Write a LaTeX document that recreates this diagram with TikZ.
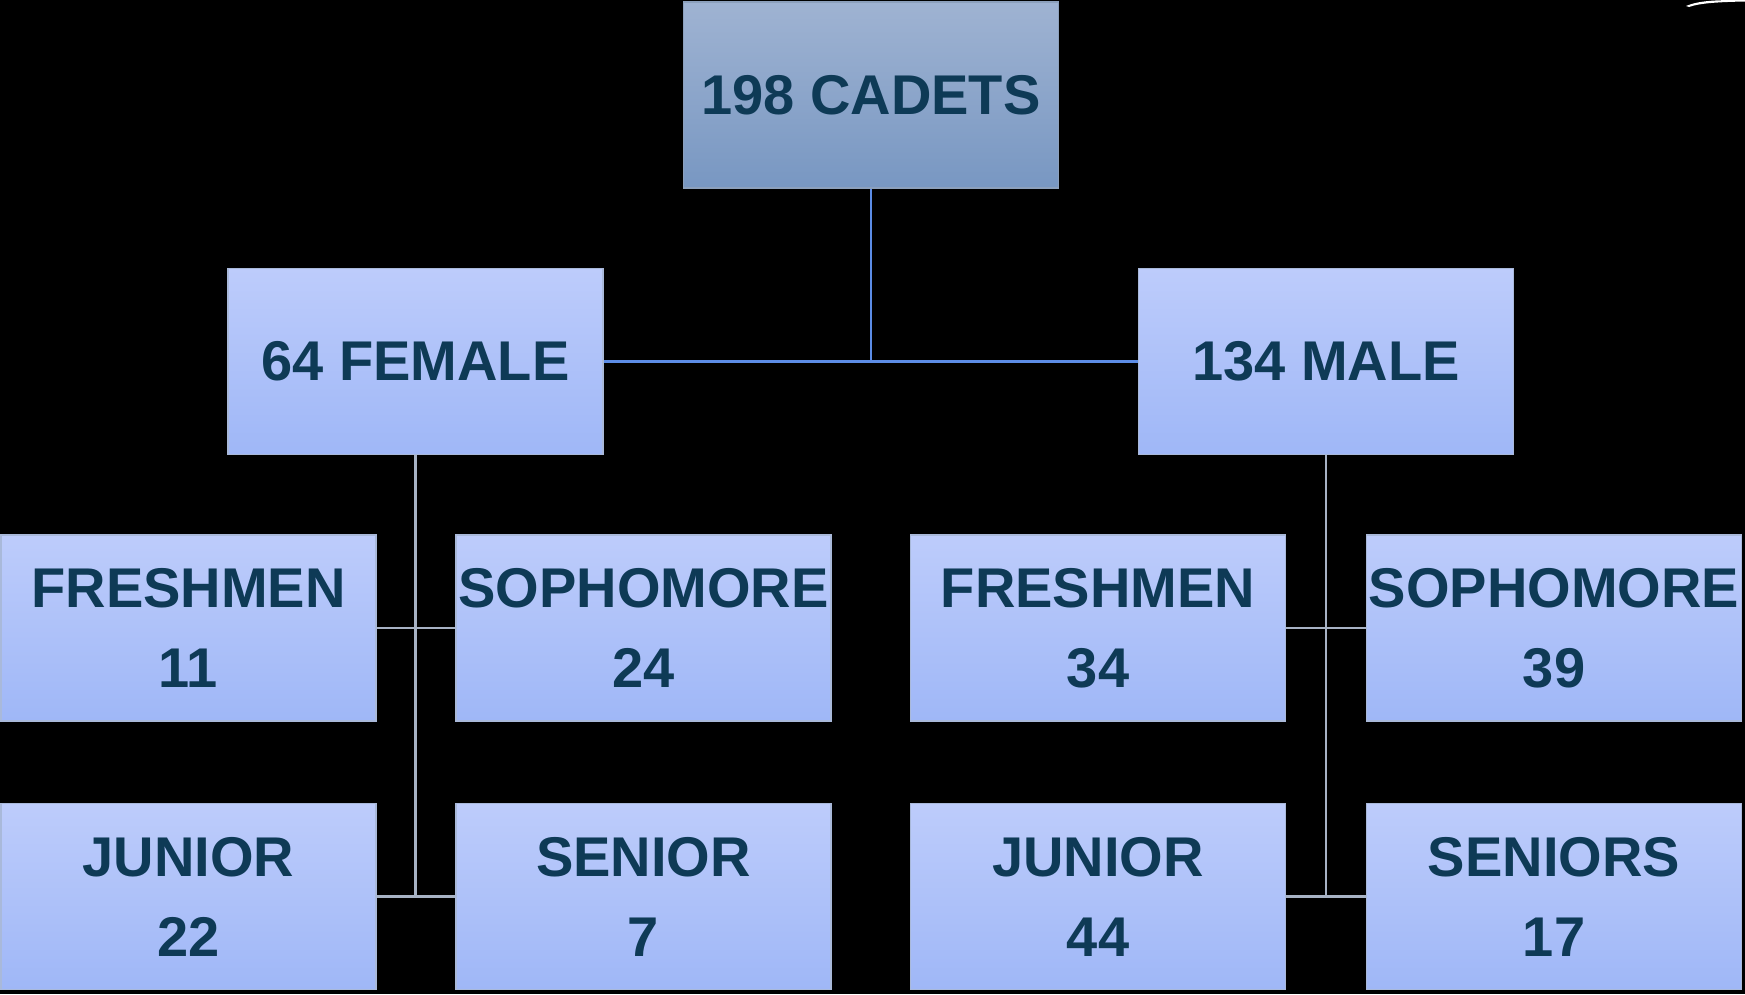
\documentclass[tikz,border=0pt]{standalone}
\usepackage{fontspec}
\setmainfont{Liberation Sans}
\definecolor{txt}{HTML}{0E3A56}
\definecolor{topA}{HTML}{9FB3D2}
\definecolor{topB}{HTML}{7897C2}
\definecolor{boxA}{HTML}{BDCCFB}
\definecolor{boxB}{HTML}{9FB7F7}
\definecolor{edgeBox}{HTML}{A9B9DA}
\definecolor{edgeTop}{HTML}{8CA0BC}
\definecolor{lineBlue}{HTML}{5C8CE6}
\definecolor{lineGray}{HTML}{A7B2C4}
\begin{document}
\begin{tikzpicture}[x=1pt,y=-1pt,
  card/.style={rectangle, inner sep=0pt, minimum width=375pt, minimum height=186pt,
    shade, top color=boxA, bottom color=boxB, draw=edgeBox, line width=1.5pt,
    text=txt, font=\fontsize{56}{80}\selectfont\bfseries, align=center},
  topcard/.style={card, top color=topA, bottom color=topB, draw=edgeTop},
  bluelink/.style={draw=lineBlue, line width=2.2pt},
  graylink/.style={draw=lineGray, line width=2.2pt}]
\fill[black] (0,0) rectangle (1745,994);
\useasboundingbox (0,0) rectangle (1745,994);
% small white swoosh at top right
\fill[white] (1686,6) .. controls (1700,0) and (1720,0) .. (1745,0) -- (1745,1.5) .. controls (1720,2) and (1700,3) .. (1689,7) -- cycle;

\node[topcard] (top) at (871,95) {198 CADETS};
\node[card] (fem) at (415.5,361.5) {64 FEMALE};
\node[card] (mal) at (1326,361.5) {134 MALE};

\node[card] (ffr) at (188.5,628) {FRESHMEN\\11};
\node[card] (fso) at (643.5,628) {SOPHOMORE\\24};
\node[card] (fju) at (188.5,896.5) {JUNIOR\\22};
\node[card] (fse) at (643.5,896.5) {SENIOR\\7};

\node[card] (mfr) at (1098,628) {FRESHMEN\\34};
\node[card] (mso) at (1554,628) {SOPHOMORE\\39};
\node[card] (mju) at (1098,896.5) {JUNIOR\\44};
\node[card] (mse) at (1554,896.5) {SENIORS\\17};

\coordinate (hub) at (top.south |- fem.east);
\coordinate (fbot) at (fem.south |- fju.east);
\coordinate (mbot) at (mal.south |- mju.east);

\draw[bluelink] (top.south) -- (hub);
\draw[bluelink] (fem.east) -- (mal.west);

\draw[graylink] (fem.south) -- (fbot);
\draw[graylink] (ffr.east) -- (fso.west);
\draw[graylink] (fju.east) -- (fse.west);

\draw[graylink] (mal.south) -- (mbot);
\draw[graylink] (mfr.east) -- (mso.west);
\draw[graylink] (mju.east) -- (mse.west);
\end{tikzpicture}
\end{document}
